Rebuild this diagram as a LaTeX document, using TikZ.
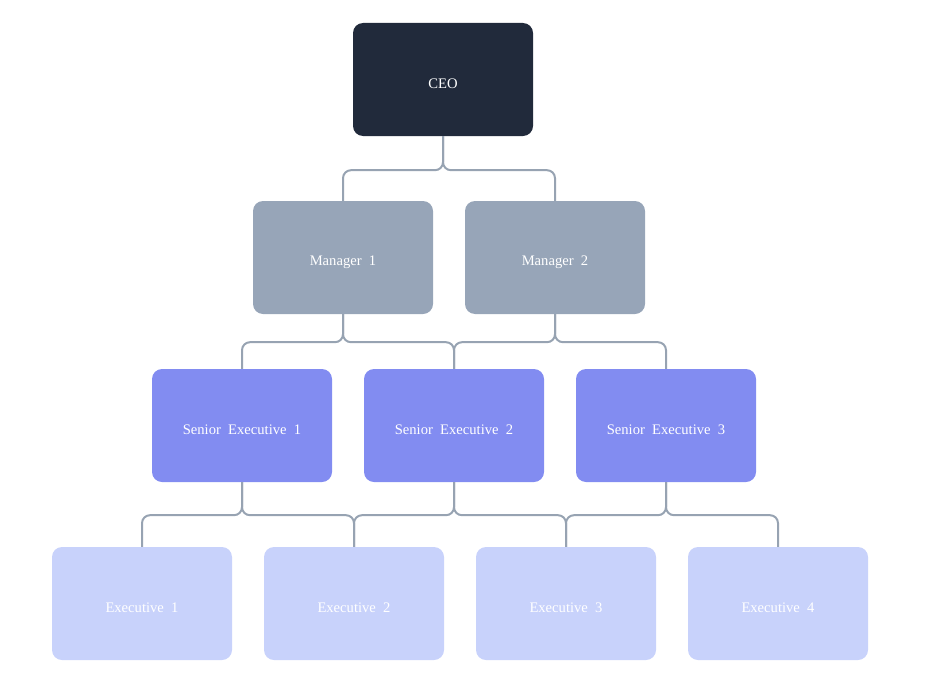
\documentclass[tikz,border=0pt]{standalone}
\usepackage{fontspec}
\setmainfont{Liberation Serif}
\definecolor{ceoc}{HTML}{212A3B}
\definecolor{mgrc}{HTML}{97A5B8}
\definecolor{senc}{HTML}{828CF1}
\definecolor{exec}{HTML}{C8D2FB}
\definecolor{linec}{HTML}{97A3B2}
\newcommand\lowtxt[1]{\raisebox{-4.5pt}[\height][\depth]{#1}}
\begin{document}
\begin{tikzpicture}[x=1pt,y=-1pt,
  box/.style={rounded corners=10pt, minimum width=180pt, minimum height=113pt, inner sep=0pt,
    text=white, font=\fontsize{14.6}{16}\selectfont},
  conn/.style={draw=linec, line width=2pt, rounded corners=8pt}]
\useasboundingbox (0,0) rectangle (931,693);
\node[box, fill=ceoc] (ceo) at (443,79.5) {\lowtxt{CEO}};
\node[box, fill=mgrc] (m1) at (343,257.5) {\lowtxt{Manager\ \ 1}};
\node[box, fill=mgrc] (m2) at (555,257.5) {\lowtxt{Manager\ \ 2}};
\node[box, fill=senc] (s1) at (242,425.5) {\lowtxt{Senior\ \ Executive\ \ 1}};
\node[box, fill=senc] (s2) at (454,425.5) {\lowtxt{Senior\ \ Executive\ \ 2}};
\node[box, fill=senc] (s3) at (666,425.5) {\lowtxt{Senior\ \ Executive\ \ 3}};
\node[box, fill=exec] (e1) at (142,603.5) {\lowtxt{Executive\ \ 1}};
\node[box, fill=exec] (e2) at (354,603.5) {\lowtxt{Executive\ \ 2}};
\node[box, fill=exec] (e3) at (566,603.5) {\lowtxt{Executive\ \ 3}};
\node[box, fill=exec] (e4) at (778,603.5) {\lowtxt{Executive\ \ 4}};
\draw[conn] (ceo.south) -- ++(0,34) -| (m1.north);
\draw[conn] (ceo.south) -- ++(0,34) -| (m2.north);
\draw[conn] (m1.south) -- ++(0,28) -| (s1.north);
\draw[conn] (m1.south) -- ++(0,28) -| (s2.north);
\draw[conn] (m2.south) -- ++(0,28) -| (s2.north);
\draw[conn] (m2.south) -- ++(0,28) -| (s3.north);
\draw[conn] (s1.south) -- ++(0,33) -| (e1.north);
\draw[conn] (s1.south) -- ++(0,33) -| (e2.north);
\draw[conn] (s2.south) -- ++(0,33) -| (e2.north);
\draw[conn] (s2.south) -- ++(0,33) -| (e3.north);
\draw[conn] (s3.south) -- ++(0,33) -| (e3.north);
\draw[conn] (s3.south) -- ++(0,33) -| (e4.north);
\end{tikzpicture}
\end{document}
